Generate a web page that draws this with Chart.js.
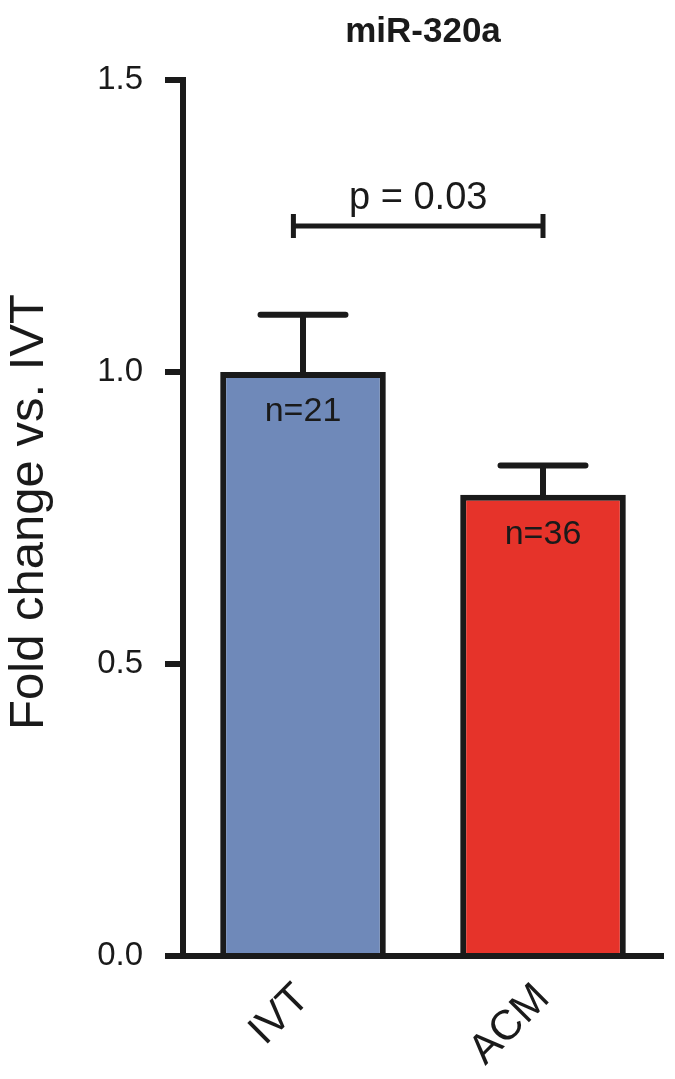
<!DOCTYPE html>
<html>
<head>
<meta charset="utf-8">
<script src="https://cdn.jsdelivr.net/npm/chart.js@4/dist/chart.umd.min.js"></script>
<style>
  html, body { margin: 0; padding: 0; background: #fff; }
  #wrap { width: 675px; height: 1079px; }
</style>
</head>
<body>
<div id="wrap"><canvas id="foldChart"></canvas></div>
<script>
// data
var groups = ["IVT", "ACM"];
var foldChange = [1.0, 0.79];
var semUp = [0.098, 0.05];
var nLabels = ["n=21", "n=36"];
var barColors = ["#6f89b9", "#e6332a"];
var yTicks = [0, 0.5, 1.0, 1.5];
var chartTitle = "miR-320a";
var yTitle = "Fold change vs. IVT";
var pText = "p = 0.03";
var pLevel = 1.25;
var pFrom = -0.04;
var pTo = 1.0;

var ink = "#1a1a1a";
var fontName = "'Liberation Sans', Arial, sans-serif";

var extras = {
  id: "extras",
  afterDatasetsDraw: function (chart) {
    var ctx = chart.ctx;
    var x = chart.scales.x;
    var y = chart.scales.y;
    var meta = chart.getDatasetMeta(0);
    var step = x.getPixelForValue(1) - x.getPixelForValue(0);
    var capHalf = step * 0.177;

    ctx.save();
    ctx.strokeStyle = ink;
    ctx.lineWidth = 6;
    ctx.lineCap = "round";

    // error bars (upper only)
    meta.data.forEach(function (bar, i) {
      var top = y.getPixelForValue(foldChange[i] + semUp[i]);
      ctx.beginPath();
      ctx.moveTo(bar.x, bar.y);
      ctx.lineTo(bar.x, top);
      ctx.moveTo(bar.x - capHalf, top);
      ctx.lineTo(bar.x + capHalf, top);
      ctx.stroke();
    });

    // n labels inside bars
    ctx.fillStyle = ink;
    ctx.font = "34px " + fontName;
    ctx.textAlign = "center";
    ctx.textBaseline = "alphabetic";
    meta.data.forEach(function (bar, i) {
      ctx.fillText(nLabels[i], bar.x, bar.y + 49);
    });

    // significance bracket
    var bx1 = x.getPixelForValue(0) + pFrom * step;
    var bx2 = x.getPixelForValue(0) + pTo * step;
    var by = y.getPixelForValue(pLevel);
    ctx.lineWidth = 5;
    ctx.lineCap = "butt";
    ctx.beginPath();
    ctx.moveTo(bx1, by);
    ctx.lineTo(bx2, by);
    ctx.moveTo(bx1, by - 12);
    ctx.lineTo(bx1, by + 12);
    ctx.moveTo(bx2, by - 12);
    ctx.lineTo(bx2, by + 12);
    ctx.stroke();
    ctx.font = "38px " + fontName;
    ctx.fillText(pText, (bx1 + bx2) / 2, by - 17);

    // title
    ctx.font = "bold 35px " + fontName;
    ctx.fillText(chartTitle, (chart.chartArea.left + chart.chartArea.right) / 2, 42);

    // y axis title
    ctx.translate(43, 512);
    ctx.rotate(-Math.PI / 2);
    ctx.font = "49px " + fontName;
    ctx.fillText(yTitle, 0, 0);
    ctx.restore();
  }
};

var ctx = document.getElementById("foldChart").getContext("2d");
new Chart(ctx, {
  type: "bar",
  data: {
    labels: groups,
    datasets: [
      {
        data: foldChange,
        backgroundColor: barColors,
        borderColor: ink,
        borderWidth: 6,
        borderSkipped: "start",
        barPercentage: 0.69,
        categoryPercentage: 1.0,
      },
    ],
  },
  options: {
    responsive: true,
    maintainAspectRatio: false,
    animation: false,
    events: [],
    layout: { padding: { top: 80, right: 12, bottom: 0, left: 0 } },
    plugins: {
      legend: { display: false },
      tooltip: { enabled: false },
    },
    scales: {
      x: {
        grid: { display: true, drawOnChartArea: false, drawTicks: false, color: "rgba(0,0,0,0)" },
        border: { display: true, color: ink, width: 6 },
        ticks: {
          color: ink,
          font: { family: fontName, size: 42 },
          minRotation: 45,
          maxRotation: 45,
          padding: 18,
        },
        afterFit: function (scale) {
          scale.height = 123;
        },
      },
      y: {
        min: 0,
        max: 1.5,
        afterBuildTicks: function (scale) {
          scale.ticks = yTicks.map(function (v) { return { value: v }; });
        },
        grid: {
          drawOnChartArea: false,
          color: ink,
          lineWidth: 6,
          tickWidth: 6,
          tickLength: 18,
          tickColor: ink,
        },
        border: { display: true, color: ink, width: 6 },
        ticks: {
          color: ink,
          font: { family: fontName, size: 33 },
          padding: 22,
          callback: function (v) { return Number(v).toFixed(1); },
        },
        afterFit: function (scale) {
          scale.width = 183;
        },
      },
    },
  },
  plugins: [extras],
});
</script>
</body>
</html>
